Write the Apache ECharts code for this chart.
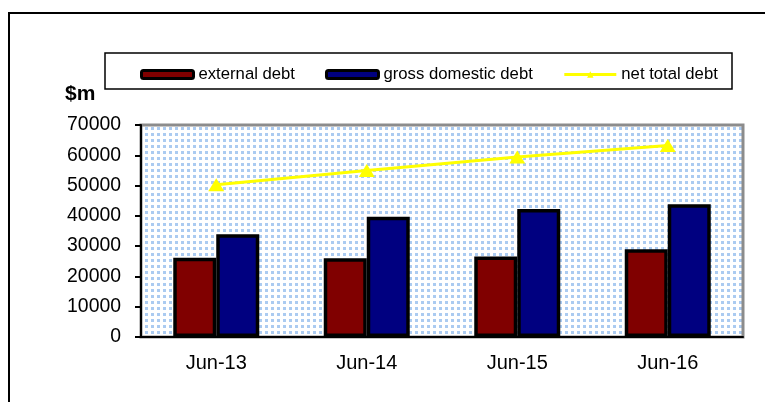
<!DOCTYPE html>
<html>
<head>
<meta charset="utf-8">
<script src="https://cdn.jsdelivr.net/npm/echarts@6/dist/echarts.min.js"></script>
<style>
  html, body { margin: 0; padding: 0; background: #fff; }
  #chart { width: 765px; height: 402px; }
</style>
</head>
<body>
<div id="chart"></div>
<script>
var categories = ['Jun-13', 'Jun-14', 'Jun-15', 'Jun-16'];
var externalDebt = [26200, 26000, 26600, 29000];
var grossDomesticDebt = [33900, 39700, 42300, 43800];
var netTotalDebt = [50300, 55000, 59400, 63200];
var yTicks = [0, 10000, 20000, 30000, 40000, 50000, 60000, 70000];

// dotted fill for the plot area
function makeDots() {
  var c = document.createElement('canvas');
  c.width = 12;
  c.height = 12;
  var ctx = c.getContext('2d');
  ctx.fillStyle = '#ffffff';
  ctx.fillRect(0, 0, 12, 12);
  ctx.fillStyle = '#abcbf1';
  ctx.fillRect(1, 1, 3, 3);
  ctx.fillRect(7, 1, 3, 3);
  ctx.fillRect(1, 7, 3, 3);
  ctx.fillRect(7, 7, 3, 3);
  return c;
}

var font = 'Liberation Sans, Arial, sans-serif';
var myChart = echarts.init(document.getElementById('chart'));
var option = {
  animation: false,
  textStyle: { fontFamily: font },
  grid: {
    left: 141, right: 22, top: 125, bottom: 65,
    show: true,
    backgroundColor: { image: makeDots(), repeat: 'repeat' },
    borderColor: '#8c8c8c',
    borderWidth: 3
  },
  graphic: [
    {
      type: 'rect',
      shape: { x: 9, y: 13, width: 800, height: 500 },
      style: { fill: 'none', stroke: '#000', lineWidth: 2 },
      silent: true
    },
    {
      type: 'rect',
      shape: { x: 105, y: 53, width: 627, height: 36 },
      style: { fill: 'none', stroke: '#000', lineWidth: 1.5 },
      silent: true
    },
    {
      type: 'text',
      left: 65,
      top: 84,
      style: { text: '$m', font: 'bold 21px ' + font, fill: '#000' }
    }
  ],
  legend: {
    left: 135,
    top: 61,
    itemGap: 30,
    itemWidth: 52,
    itemHeight: 8,
    textStyle: { fontSize: 16.7, color: '#000', fontFamily: font },
    data: [
      { name: 'external debt', itemStyle: { borderWidth: 3, borderColor: '#000' } },
      { name: 'gross domestic debt', itemStyle: { borderWidth: 3, borderColor: '#000' } },
      { name: 'net total debt', lineStyle: { width: 3 } }
    ]
  },
  xAxis: {
    type: 'category',
    data: categories,
    axisLine: { lineStyle: { color: '#000', width: 2 } },
    axisTick: { length: 7, lineStyle: { color: '#000', width: 2 } },
    axisLabel: { fontSize: 20, color: '#000', margin: 16 }
  },
  yAxis: {
    type: 'value',
    min: yTicks[0],
    max: yTicks[yTicks.length - 1],
    interval: yTicks[1] - yTicks[0],
    axisLine: { show: true, lineStyle: { color: '#000', width: 2 } },
    axisTick: { show: true, length: 6, lineStyle: { color: '#000', width: 2 } },
    axisLabel: {
      fontSize: 19.4, color: '#000', margin: 20,
      formatter: function (v) { return String(v); }
    },
    splitLine: { show: false }
  },
  series: [
    {
      name: 'external debt',
      type: 'bar',
      data: externalDebt,
      barWidth: 43,
      barGap: '0%',
      itemStyle: { color: '#800000', borderColor: '#000', borderWidth: 3.5 }
    },
    {
      name: 'gross domestic debt',
      type: 'bar',
      data: grossDomesticDebt,
      barWidth: 43,
      barGap: '0%',
      itemStyle: { color: '#000080', borderColor: '#000', borderWidth: 3.5 }
    },
    {
      name: 'net total debt',
      type: 'line',
      data: netTotalDebt,
      symbol: 'triangle',
      symbolSize: [16, 13],
      lineStyle: { color: '#ffff00', width: 3 },
      itemStyle: { color: '#ffff00', borderWidth: 0 },
      z: 5
    }
  ]
};
option && myChart.setOption(option);
</script>
</body>
</html>
